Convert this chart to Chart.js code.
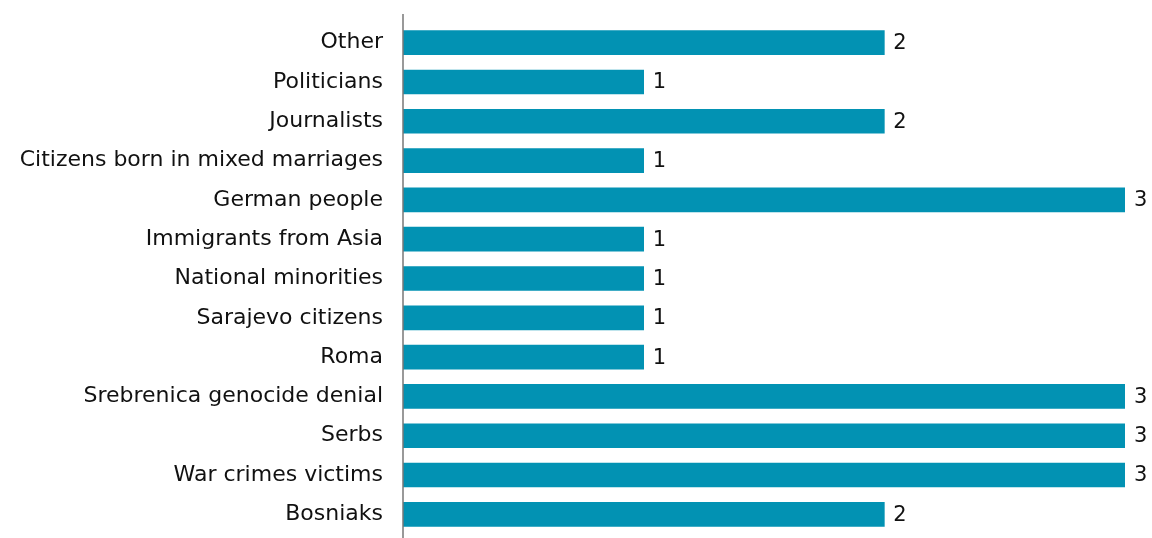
<!DOCTYPE html>
<html>
<head>
<meta charset="utf-8">
<script src="https://cdn.jsdelivr.net/npm/chart.js@4"></script>
<style>
  html, body { margin: 0; padding: 0; background: #fff; overflow: hidden; }
</style>
</head>
<body>
<canvas id="chart" width="1152" height="538"></canvas>
<script>
// Datos
const categorias = ['Other', 'Politicians', 'Journalists', 'Citizens born in mixed marriages', 'German people',
    'Immigrants from Asia', 'National minorities', 'Sarajevo citizens', 'Roma',
    'Srebrenica genocide denial', 'Serbs', 'War crimes victims', 'Bosniaks'];
const valores = [2, 1, 2, 1, 3, 1, 1, 1, 1, 3, 3, 3, 2];

const fuente = '"DejaVu Sans", sans-serif';

// Etiquetas de valor al final de cada barra
const etiquetas = {
    id: 'etiquetas',
    afterDatasetsDraw(chart) {
        const ctx = chart.ctx;
        const meta = chart.getDatasetMeta(0);
        ctx.save();
        ctx.font = '21px ' + fuente;
        ctx.fillStyle = '#111';
        ctx.textAlign = 'left';
        ctx.textBaseline = 'middle';
        meta.data.forEach((bar, i) => {
            ctx.fillText(valores[i], bar.x + 9, bar.y + 1);
        });
        ctx.restore();
    }
};

// Línea vertical del eje
const lineaEje = {
    id: 'lineaEje',
    afterDraw(chart) {
        const ctx = chart.ctx;
        const x = chart.chartArea.left;
        ctx.save();
        ctx.strokeStyle = '#777';
        ctx.lineWidth = 1.5;
        ctx.beginPath();
        ctx.moveTo(x, 14);
        ctx.lineTo(x, 538);
        ctx.stroke();
        ctx.restore();
    }
};

const ctx = document.getElementById('chart').getContext('2d');
const myChart = new Chart(ctx, {
    type: 'bar',
    data: {
        labels: categorias,
        datasets: [{
            data: valores,
            backgroundColor: '#0292b3',
            barThickness: 24
        }]
    },
    options: {
        indexAxis: 'y',
        responsive: false,
        animation: false,
        layout: { padding: { top: 23, bottom: 4, right: 27, left: 0 } },
        plugins: {
            legend: { display: false },
            tooltip: { enabled: false }
        },
        scales: {
            x: {
                min: 0,
                max: 3,
                display: false
            },
            y: {
                grid: { display: false, drawTicks: false },
                border: { display: false },
                ticks: {
                    color: '#111',
                    padding: 20,
                    autoSkip: false,
                    font: { family: fuente, size: 22 }
                },
                afterFit(scale) {
                    scale.width = 403;
                    scale.paddingTop = 0;
                    scale.paddingBottom = 0;
                }
            }
        }
    },
    plugins: [etiquetas, lineaEje]
});
</script>
</body>
</html>
